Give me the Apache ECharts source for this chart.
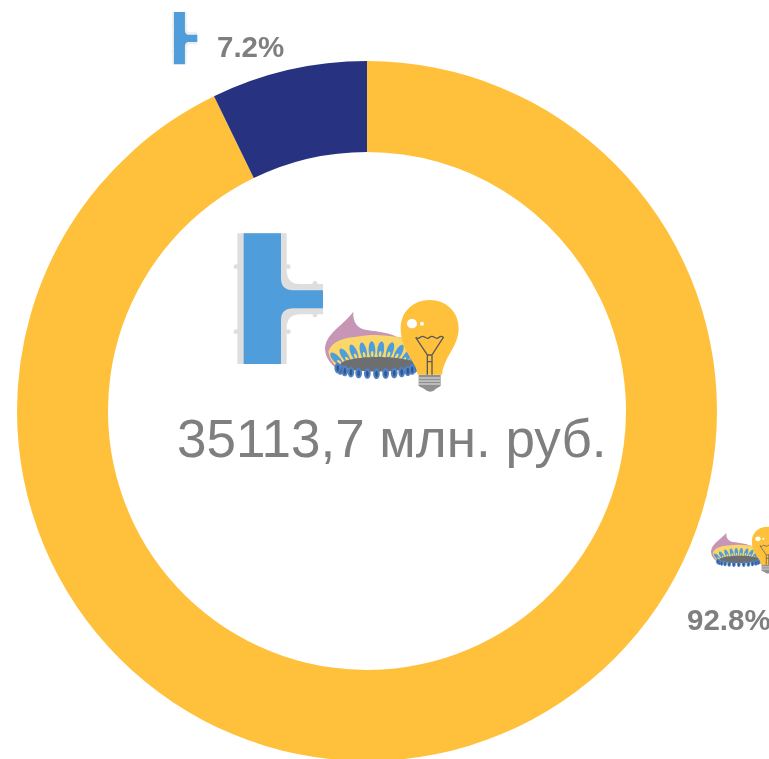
<!DOCTYPE html>
<html>
<head>
<meta charset="utf-8">
<style>html,body{margin:0;padding:0;background:#fff}#chart{width:769px;height:759px}</style>
<script src="https://cdn.jsdelivr.net/npm/echarts@6/dist/echarts.min.js"></script>
</head>
<body>
<div id="chart"></div>
<script>
var categories = ['Газ и электричество', 'Тепло'];
var shares = [92.8, 7.2];
var colors = ['#FFC13B', '#273381'];
var totalLabel = '35113,7 млн. руб.';
var labelSpots = [[687, 622], [217, 49]];

var blue = '#4F9DDA', grey = '#DEDEDE', ink = '#7F7F7F', dark = '#58595B';

// the graphic component has no plain path type, so register each outline as a shape
var pathCount = 0;
function outline(d, style) {
  var name = 'iconPath' + (pathCount++);
  echarts.graphic.registerShape(name, echarts.graphic.extendPath(d, {}));
  return { type: name, style: style };
}

// icons are drawn in the coordinates of the 3x crop, then scaled down
function pipeIcon(x, y, sx, sy, edge) {
  var bumps = [[48, 140], [48, 335], [205, 140], [205, 335], [285, 190], [285, 285]];
  var kids = bumps.map(function(b) {
    return { type: 'circle', shape: { cx: b[0], cy: b[1], r: 7 }, style: { fill: grey, opacity: edge } };
  });
  kids.push(outline('M52 40H200V150Q200 192 240 192H309V283H240Q200 283 200 325V432H52Z', { fill: grey, opacity: edge }));
  kids.push(outline('M71 40H183V175Q183 211 220 211H309V265H220Q183 265 183 300V432H71Z', { fill: blue }));
  return { type: 'group', x: x, y: y, scaleX: sx, scaleY: sy, silent: true, children: kids };
}

function burnerIcon(x, y, sx, sy) {
  var kids = [];
  kids.push(outline('M315 385C318 340 365 320 400 275C398 305 410 325 440 330C480 335 510 340 530 350L590 360L590 440L360 455C335 435 315 415 315 385Z', { fill: '#C795B5' }));
  kids.push(outline('M325 395C335 365 370 352 410 350C460 340 530 345 590 365L590 440L365 455C345 440 330 420 325 395Z', { fill: '#FBD669' }));
  var petals = [[350, 392], [375, 382], [402, 372], [430, 367], [456, 364], [482, 364], [510, 366], [536, 372], [560, 384], [577, 398]];
  petals.forEach(function(p) {
    var lean = (462 - p[0]) / 120 * 0.8;
    var cy = p[1] + 26;
    kids.push({ type: 'ellipse', shape: { cx: p[0], cy: cy, rx: 10, ry: 26 }, rotation: lean, originX: p[0], originY: cy, style: { fill: '#4F9DDA' } });
    kids.push({ type: 'ellipse', shape: { cx: p[0], cy: cy + 12, rx: 4, ry: 9 }, rotation: lean, originX: p[0], originY: cy, style: { fill: '#FBD669' } });
  });
  kids.push({ type: 'ellipse', shape: { cx: 474, cy: 433, rx: 112, ry: 22 }, style: { fill: '#6D6E70' } });
  // lower flames
  var i, a, px, py;
  for (i = 0; i < 13; i++) {
    a = Math.PI * (0.04 + i * 0.076);
    px = 468 + Math.cos(a) * 116;
    py = 441 + Math.sin(a) * 20;
    kids.push({ type: 'ellipse', shape: { cx: px, cy: py, rx: 10, ry: 16 }, style: { fill: '#4F82C4' } });
    kids.push({ type: 'ellipse', shape: { cx: px, cy: py + 1, rx: 4, ry: 10 }, style: { fill: '#34568F' } });
  }
  kids.push(outline('M596 464H662V498L648 506Q632 524 612 506L596 498Z', { fill: '#8F9092' }));
  [474, 483, 492].forEach(function(ly) {
    kids.push({ type: 'line', shape: { x1: 597, y1: ly, x2: 661, y2: ly }, style: { stroke: '#E6E6E6', lineWidth: 3 } });
  });
  kids.push(outline('M593 464C590 425 542 395 542 325C542 275 580 240 629 240C678 240 716 275 716 325C716 380 672 410 666 464Z', { fill: '#FFC13B' }));
  kids.push({ type: 'ellipse', shape: { cx: 576, cy: 311, rx: 15, ry: 14 }, style: { fill: '#FFF' } });
  kids.push({ type: 'circle', shape: { cx: 606, cy: 311, r: 6 }, style: { fill: '#FFF' } });
  kids.push(outline('M587 352Q595 358 601 352T615 352T629 352T643 352T657 352T670 352L636 405V464M587 352L622 405V464M622 405H636M622 425H636', { fill: 'none', stroke: dark, lineWidth: 4 }));
  return { type: 'group', x: x, y: y, scaleX: sx, scaleY: sy, silent: true, children: kids };
}

var chart = echarts.init(document.getElementById('chart'));
chart.setOption({
  animation: false,
  graphic: { elements: [
    pipeIcon(220, 220, 1 / 3, 1 / 3, 1),
    burnerIcon(220, 220, 1 / 3, 1 / 3),
    pipeIcon(167, 6.7, 0.098, 0.133, 0.5),
    burnerIcon(654.3, 486, 0.18, 0.17),
    { type: 'text', x: 177, y: 442, silent: true, style: {
      text: totalLabel, fill: ink, font: '53px "Liberation Sans", Arial, sans-serif', verticalAlign: 'middle' } }
  ] },
  series: [{
    type: 'pie',
    center: [367, 411],
    radius: [259, 350],
    startAngle: 90,
    clockwise: true,
    silent: true,
    itemStyle: { borderWidth: 0 },
    label: {
      show: true,
      position: 'outside',
      formatter: '{c}%',
      color: ink,
      fontFamily: '"Liberation Sans", Arial, sans-serif',
      fontWeight: 'bold',
      fontSize: 29.5
    },
    labelLine: { show: false },
    labelLayout: function(p) {
      return { x: labelSpots[p.dataIndex][0], y: labelSpots[p.dataIndex][1], align: 'left', verticalAlign: 'middle', hideOverlap: false };
    },
    data: categories.map(function(name, i) {
      return { name: name, value: shares[i], itemStyle: { color: colors[i] } };
    })
  }]
});
</script>
</body>
</html>
